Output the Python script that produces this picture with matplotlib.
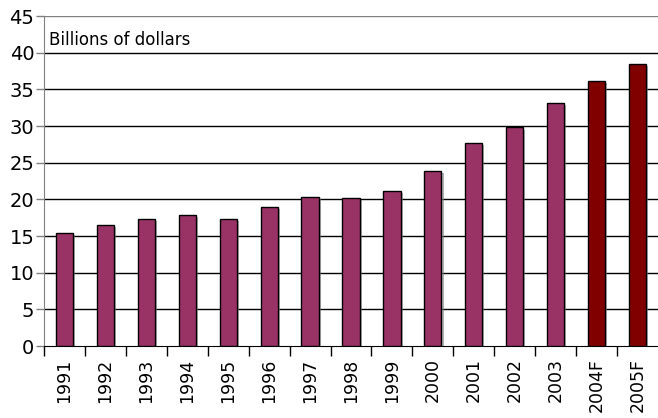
import matplotlib
matplotlib.use("Agg")
from matplotlib import pyplot as plt
from matplotlib import patheffects as pe

years = ["1991", "1992", "1993", "1994", "1995", "1996", "1997", "1998",
         "1999", "2000", "2001", "2002", "2003", "2004F", "2005F"]
values = [15.45, 16.45, 17.3, 17.9, 17.3, 18.9, 20.3, 20.2,
          21.2, 23.9, 27.7, 29.8, 33.2, 36.2, 38.4]
colors = ["#993366"] * 13 + ["#800000"] * 2

plt.rcParams['font.family'] = ['DejaVu Sans']

fig = plt.figure(figsize=(6.58, 4.18), dpi=100)
ax = fig.add_axes([44 / 658, (418 - 346) / 418, 614 / 658, 330 / 418])

x = list(range(len(years)))
bars = ax.bar(x, values, width=0.42, color=colors, edgecolor="black",
              linewidth=1, zorder=3)
for b in bars:
    b.set_path_effects([pe.SimplePatchShadow(offset=(1.5, -1.5),
                                             shadow_rgbFace="gray", alpha=0.6),
                        pe.Normal()])

ax.set_xlim(-0.5, len(years) - 0.5)
ax.set_ylim(0, 45)
ax.set_yticks(range(0, 46, 5))
for y in range(5, 45, 5):
    ax.axhline(y, color="black", linewidth=1, zorder=1)
ax.axhline(45, color="gray", linewidth=1, zorder=1)

# ticks sit between the categories, labels under each bar
ax.set_xticks([i + 0.5 for i in x[:-1]] + [-0.5])
ax.set_xticklabels([])
ax.set_xticks(x, minor=True)
ax.set_xticklabels(years, minor=True, rotation=90, fontsize=12.5)
ax.tick_params(axis="x", which="minor", length=0, pad=9)
ax.tick_params(axis="x", which="major", length=7, width=1, color="black")
ax.tick_params(axis="y", length=6, width=1, labelsize=14, pad=1,
               color="gray")

for s in ["top", "right"]:
    ax.spines[s].set_visible(False)
ax.spines["left"].set_color("gray")
ax.spines["bottom"].set_color("black")

ax.text(0.008, 0.927, "Billions of dollars", transform=ax.transAxes,
        fontsize=12, ha="left", va="center")

plt.savefig("out.png", dpi=100)
